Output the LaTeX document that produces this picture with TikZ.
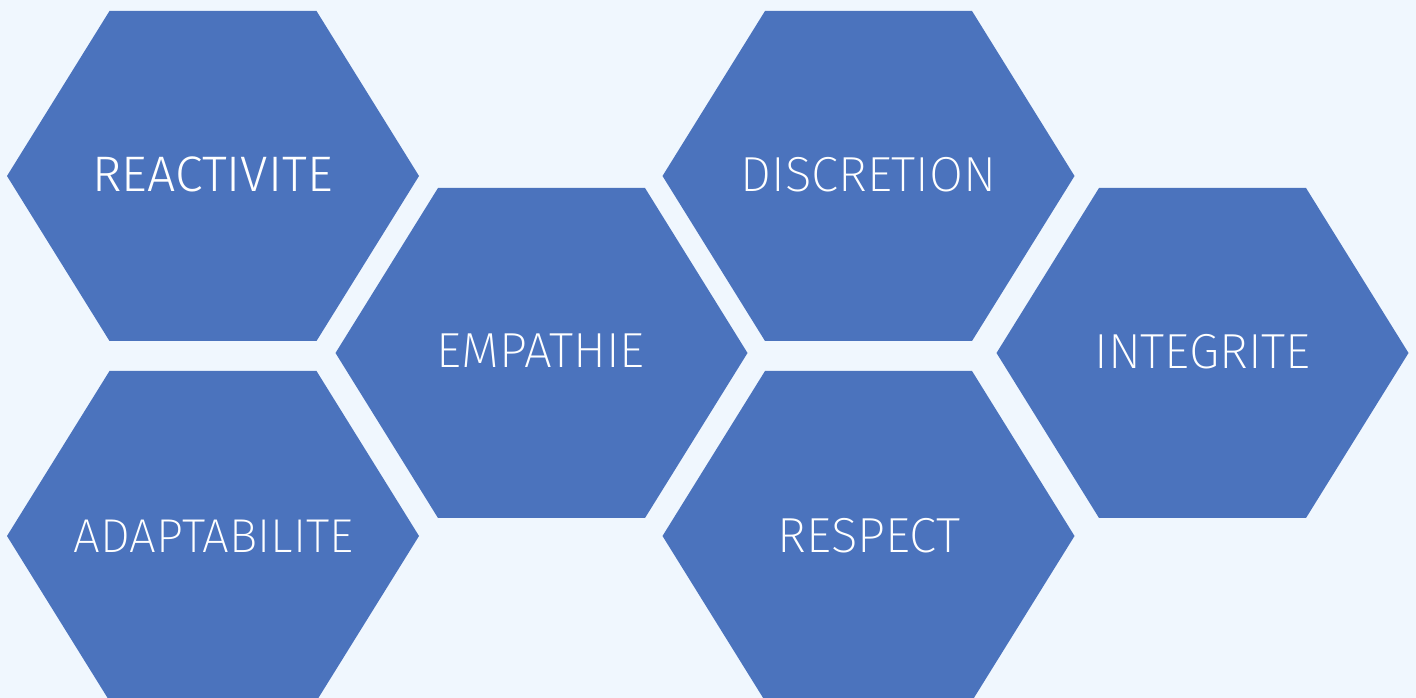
\documentclass[tikz,border=0pt]{standalone}
\usepackage{fontspec}
\setmainfont{Fira Sans}[UprightFont={* ExtraLight}]
\newfontfamily\regfont{Fira Sans}[UprightFont={* Light}]
\definecolor{bgblue}{HTML}{F0F7FE}
\definecolor{hexblue}{HTML}{4B73BD}
\begin{document}
\begin{tikzpicture}[x=0.01cm,y=-0.01cm,
  hexa/.pic={\fill[hexblue] (-206,0) -- (-103.5,-165) -- (103.5,-165) -- (206,0) -- (103.5,165) -- (-103.5,165) -- cycle;},
  lbl/.style={text=white,font=\fontsize{14}{16}\selectfont,anchor=base,inner sep=0pt}]
\useasboundingbox (0,0) rectangle (1416,698);
\fill[bgblue] (0,0) rectangle (1416,698);
\pic at (213,176) {hexa};
\pic at (541.5,353) {hexa};
\pic at (868.5,176) {hexa};
\pic at (1202.5,353) {hexa};
\pic at (213,536) {hexa};
\pic at (868.5,536) {hexa};
\node[lbl,font=\regfont\fontsize{14.2}{16}\selectfont] (reac) at (212.5,192) {REACTIVITE};
\node[lbl] (emp) at (540.5,368) {EMPATHIE};
\node[lbl] (disc) at (868.5,192) {DISCRETION};
\node[lbl] (integ) at (1202.5,369) {INTEGRITE};
\node[lbl,font=\fontsize{13.5}{16}\selectfont] (adap) at (213.5,553) {ADAPTABILITE};
\node[lbl] (resp) at (869,553) {RESPECT};
\end{tikzpicture}
\end{document}
